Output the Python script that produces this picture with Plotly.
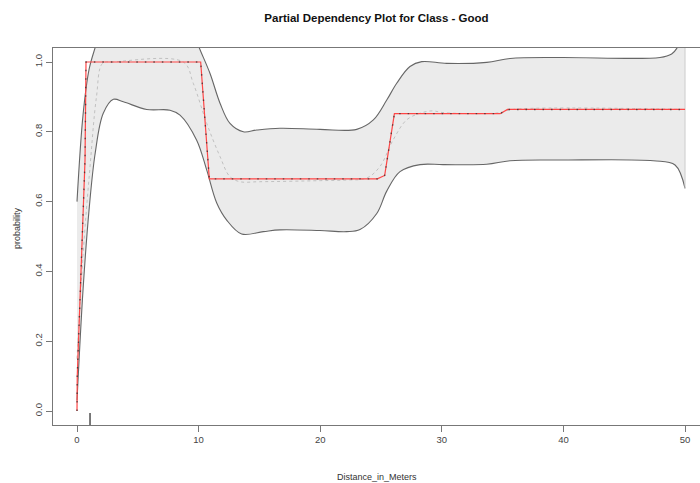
import plotly.graph_objects as go

# ---- data ----
lower_x = [0, 0.5, 1.0, 1.5, 2.16, 2.99, 3.81, 5.73, 7.65, 8.47, 9.84, 10.67, 11.49, 12.31,
           13.54, 15.32, 16.69, 19.98, 22.18, 23.27, 24.65, 25.47, 26.56, 28.21, 30.12,
           33.69, 35.61, 39.72, 47.39, 49.18, 50]
lower_y = [0.03, 0.35, 0.58, 0.74, 0.853, 0.893, 0.886, 0.864, 0.862, 0.848, 0.776, 0.69, 0.596,
           0.547, 0.507, 0.514, 0.519, 0.517, 0.514, 0.520, 0.566, 0.630, 0.686, 0.706, 0.706,
           0.707, 0.717, 0.719, 0.717, 0.705, 0.638]

upper_x = [0, 0.5, 1.0, 1.48, 2.2, 3.5, 6.0, 8.5, 9.5, 10.06, 10.94, 11.76, 12.58, 13.68,
           14.78, 16.69, 19.98, 23.0, 24.37, 25.47, 26.29, 27.38, 28.35, 30.4, 33.69, 35.61,
           39.72, 47.94, 48.9, 49.32, 50]
upper_y = [0.6, 0.85, 0.98, 1.04, 1.12, 1.17, 1.18, 1.16, 1.09, 1.04, 0.967, 0.882, 0.824, 0.800,
           0.805, 0.810, 0.807, 0.807, 0.834, 0.891, 0.939, 0.987, 1.001, 0.996, 0.999, 1.010,
           1.013, 1.013, 1.023, 1.039, 1.10]

pdp_x = [0, 0.02, 0.66, 0.74, 10.17, 10.88, 24.7, 25.3, 26.1, 34.8, 35.4, 50]
pdp_y = [0.0, 0.10, 0.72, 1.0, 1.0, 0.665, 0.665, 0.675, 0.852, 0.852, 0.864, 0.864]

smooth_x = [0, 0.5, 1.07, 1.6, 2.1, 3.0, 8.74, 9.56, 10.67, 11.76, 12.58, 13.4, 15.0, 20.0,
            22.18, 23.8, 24.9, 26.0, 27.1, 28.2, 29.2, 30.1, 33.0, 34.8, 35.8, 50]
smooth_y = [0.15, 0.45, 0.70, 0.90, 0.996, 1.0, 1.0, 0.939, 0.824, 0.729, 0.671, 0.657, 0.657,
            0.66, 0.662, 0.667, 0.70, 0.777, 0.834, 0.853, 0.860, 0.855, 0.852, 0.855, 0.864, 0.864]

rug_x = [1.07]

x_ticks = [0, 10, 20, 30, 40, 50]
y_ticks = [0.0, 0.2, 0.4, 0.6, 0.8, 1.0]

title_text = "Partial Dependency Plot for Class - Good"
x_label = "Distance_in_Meters"
y_label = "probability"

# ---- figure ----
fig = go.Figure()

fig.add_trace(go.Scatter(x=lower_x, y=lower_y, mode="lines", line=dict(color="#666666", width=1.1, shape="spline"),
                         hoverinfo="skip", showlegend=False))
fig.add_trace(go.Scatter(x=upper_x, y=upper_y, mode="lines", fill="tonexty", fillcolor="#ebebeb",
                         line=dict(color="#666666", width=1.1, shape="spline"),
                         hoverinfo="skip", showlegend=False))
# right edge of band polygon
fig.add_trace(go.Scatter(x=[lower_x[-1], upper_x[-1]], y=[lower_y[-1], upper_y[-1]], mode="lines",
                         line=dict(color="#cccccc", width=1), hoverinfo="skip", showlegend=False))

fig.add_trace(go.Scatter(x=smooth_x, y=smooth_y, mode="lines",
                         line=dict(color="#bbbbbb", width=0.9, dash="dot", shape="spline"),
                         hoverinfo="skip", showlegend=False))

fig.add_trace(go.Scatter(x=pdp_x, y=pdp_y, mode="lines", line=dict(color="rgb(255,70,70)", width=1.2),
                         hoverinfo="skip", showlegend=False))
fig.add_trace(go.Scatter(x=pdp_x, y=pdp_y, mode="lines",
                         line=dict(color="rgba(40,40,40,0.7)", width=1.4, dash="1.5px,7px"),
                         hoverinfo="skip", showlegend=False))

for rx in rug_x:
    fig.add_trace(go.Scatter(x=[rx, rx], y=[-0.0401, -0.006], mode="lines",
                             line=dict(color="#222", width=1.2), hoverinfo="skip", showlegend=False))

fig.update_layout(
    width=700, height=483,
    margin=dict(l=53, r=0, t=48, b=58),
    paper_bgcolor="white", plot_bgcolor="white",
    font=dict(family="Liberation Sans, Arial, sans-serif", color="#333"),
    showlegend=False,
    title=dict(text="<b>" + title_text + "</b>", x=0.5, xref="paper", xanchor="center",
               y=1 - 18 / 483, yanchor="middle",
               font=dict(size=11.5, color="#111", family="Liberation Sans, Arial, sans-serif")),
)

fig.update_xaxes(range=[-1.974, 51.23], tickvals=x_ticks, ticktext=[str(v) for v in x_ticks],
                 showgrid=False, zeroline=False, showline=True, linecolor="#777", linewidth=1,
                 mirror=True, ticks="outside", ticklen=6, tickcolor="#777", tickwidth=1,
                 tickfont=dict(size=9.5, color="#444"))
fig.update_yaxes(range=[-0.0401, 1.0401], tickvals=y_ticks, ticktext=["%.1f" % v for v in y_ticks],
                 showgrid=False, zeroline=False, showline=True, linecolor="#777", linewidth=1,
                 ticks="outside", ticklen=6, tickcolor="#777", tickwidth=1, tickangle=-90,
                 tickfont=dict(size=9.5, color="#444"))

fig.add_annotation(text=x_label, xref="paper", yref="paper", x=0.5, y=(425 - 477) / 377,
                   xanchor="center", yanchor="middle", showarrow=False,
                   font=dict(size=9, color="#333"))
fig.add_annotation(text=y_label, xref="paper", yref="paper", x=(17 - 53) / 647, y=(425 - 228) / 377,
                   xanchor="center", yanchor="middle", showarrow=False, textangle=-90,
                   font=dict(size=9, color="#333"))

fig.write_html("out.html")
